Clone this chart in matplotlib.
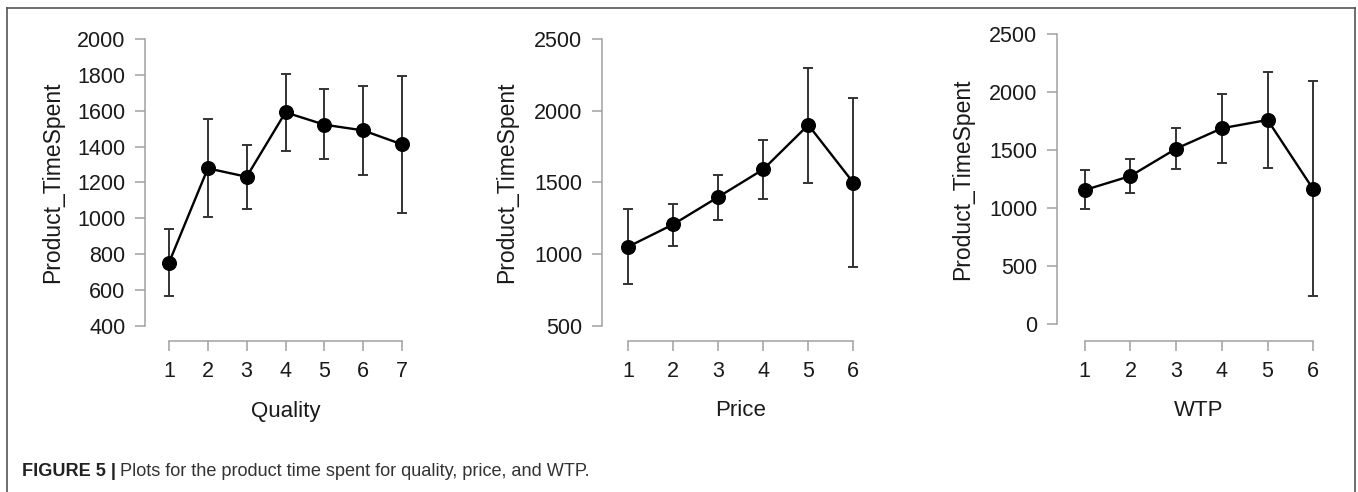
import numpy as np
import matplotlib
matplotlib.use('Agg')
import matplotlib.pyplot as plt
from matplotlib.lines import Line2D

plt.rcParams['font.family'] = ['Liberation Sans', 'DejaVu Sans']

# Data (means with upper / lower error bar ends)
quality_x = [1, 2, 3, 4, 5, 6, 7]
quality_mean = [752, 1279, 1232, 1592, 1523, 1491, 1413]
quality_hi = [942, 1555, 1411, 1806, 1720, 1741, 1797]
quality_lo = [568, 1009, 1050, 1378, 1329, 1242, 1031]

price_x = [1, 2, 3, 4, 5, 6]
price_mean = [1052, 1208, 1399, 1592, 1902, 1499]
price_hi = [1313, 1352, 1555, 1797, 2302, 2090]
price_lo = [789, 1059, 1240, 1385, 1499, 910]

wtp_x = [1, 2, 3, 4, 5, 6]
wtp_mean = [1156, 1277, 1513, 1689, 1761, 1162]
wtp_hi = [1326, 1424, 1689, 1988, 2178, 2094]
wtp_lo = [990, 1133, 1338, 1387, 1349, 239]

quality_yticks = [400, 600, 800, 1000, 1200, 1400, 1600, 1800, 2000]
price_yticks = [500, 1000, 1500, 2000, 2500]
wtp_yticks = [0, 500, 1000, 1500, 2000, 2500]

W, H = 1358, 492
DPI = 100
fig = plt.figure(figsize=(W / DPI, H / DPI), dpi=DPI)

spine_col = '#a0a0a0'
err_col = '#333333'
text_col = '#1a1a1a'


def panel(xs, mean, hi, lo, yticks, xlabel, left, x_first, x_last, top, bottom, xaxis_y, ylab_x):
    n = len(xs)
    right = x_last + 25
    ax = fig.add_axes([left / W, 1 - bottom / H, (right - left) / W, (bottom - top) / H])
    unit = (x_last - x_first) / (n - 1)
    ax.set_xlim(xs[0] - (x_first - left) / unit, xs[-1] + (right - x_last) / unit)
    ax.set_ylim(yticks[0], yticks[-1])

    mean = np.array(mean)
    err = [mean - np.array(lo), np.array(hi) - mean]
    ax.errorbar(xs, mean, yerr=err, fmt='none', ecolor=err_col, elinewidth=1.4,
                capsize=3.3, capthick=1.4, zorder=2)
    ax.plot(xs, mean, color='black', lw=1.7, marker='o', ms=9.8, zorder=3)

    for s in ['top', 'right']:
        ax.spines[s].set_visible(False)
    for s in ['left', 'bottom']:
        ax.spines[s].set_color(spine_col)
        ax.spines[s].set_linewidth(1.1)
    ax.spines['left'].set_bounds(yticks[0], yticks[-1])
    ax.spines['bottom'].set_bounds(xs[0], xs[-1])
    ax.spines['bottom'].set_position(('outward', (xaxis_y - bottom) * 72 / DPI))

    ax.set_xticks(xs)
    ax.set_yticks(yticks)
    ax.tick_params(axis='both', colors=spine_col, labelcolor=text_col, labelsize=15.5,
                   length=7.5, width=1.1)
    ax.tick_params(axis='y', pad=6.5)
    ax.tick_params(axis='x', pad=7)

    fig.text((x_first + x_last) / 2 / W, 1 - 411 / H, xlabel, fontsize=16,
             color=text_col, ha='center', va='center')
    fig.text(ylab_x / W, 1 - (top + bottom) / 2 / H, 'Product_TimeSpent', fontsize=16.5,
             color=text_col, ha='center', va='center', rotation=90)
    return ax


panel(quality_x, quality_mean, quality_hi, quality_lo, quality_yticks, 'Quality',
      145, 169, 402, 39.3, 325.7, 340.5, 53)
panel(price_x, price_mean, price_hi, price_lo, price_yticks, 'Price',
      601.7, 628.3, 853.3, 39.3, 325.7, 340.5, 507)
panel(wtp_x, wtp_mean, wtp_hi, wtp_lo, wtp_yticks, 'WTP',
      1056.7, 1084.7, 1313.3, 34.3, 324, 340.5, 963)

# outer frame (top, left, right edges)
frame_col = '#555555'
for xs_, ys_ in [([7, 1355], [8, 8]), ([7, 7], [8, H + 2]), ([1355, 1355], [8, H + 2])]:
    fig.add_artist(Line2D([x / W for x in xs_], [1 - y / H for y in ys_],
                          color=frame_col, lw=1.2, transform=fig.transFigure))

# caption
cap_y = 1 - 472 / H
t1 = fig.text(22 / W, cap_y, 'FIGURE 5 |', fontsize=13.1, fontweight='bold',
              color='#222222', va='center')
fig.canvas.draw()
bb = t1.get_window_extent()
fig.text((bb.x1 + 4) / W, cap_y, 'Plots for the product time spent for quality, price, and WTP.',
         fontsize=13.1, color='#333333', va='center')

fig.savefig('out.png', dpi=DPI)
